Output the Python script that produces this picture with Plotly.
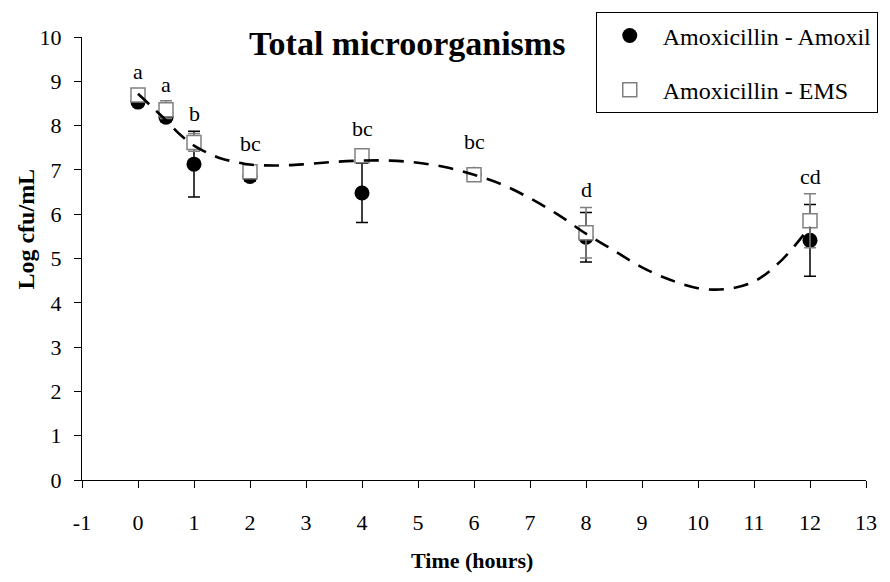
import plotly.graph_objects as go

# ---- data ----
time_h = [0, 0.5, 1, 2, 4, 6, 8, 12]
amoxil = [8.53, 8.19, 7.13, 6.85, 6.48, 6.90, 5.48, 5.41]
amoxil_err = [0.07, 0.10, 0.74, 0.10, 0.67, 0.10, 0.56, 0.81]
ems = [8.69, 8.36, 7.62, 6.96, 7.32, 6.89, 5.58, 5.85]
ems_err = [0.07, 0.20, 0.20, 0.06, 0.10, 0.13, 0.57, 0.61]

trend_t = [0, 0.25, 0.5, 0.75, 1, 1.25, 1.5, 1.75, 2, 2.5, 3, 3.5, 4, 4.5, 5, 5.5,
           6, 6.5, 7, 7.5, 8, 8.5, 9, 9.5, 10, 10.5, 11, 11.5, 12]
trend_v = [8.72, 8.42, 8.12, 7.80, 7.55, 7.38, 7.25, 7.18, 7.12, 7.10, 7.13, 7.18,
           7.21, 7.21, 7.16, 7.06, 6.89, 6.67, 6.36, 5.99, 5.56, 5.18, 4.80, 4.52,
           4.33, 4.31, 4.48, 4.97, 5.72]

sig_labels = ["a", "a", "b", "bc", "bc", "bc", "d", "cd"]
sig_y = [9.22, 8.93, 8.27, 7.60, 7.93, 7.63, 6.56, 6.84]

x_ticks = list(range(-1, 14))
y_ticks = list(range(0, 11))

FONT = "Liberation Serif, Times New Roman, serif"

# plot area in pixels (for paper-coordinate placement of texts)
L, R, T, B = 82, 874, 30, 480
W, H = R - L, B - T


def px(xp):
    return (xp - L) / W


def py(yp):
    return (B - yp) / H


fig = go.Figure()

fig.add_trace(go.Scatter(
    x=time_h, y=amoxil, mode="markers", name="Amoxicillin - Amoxil",
    marker=dict(symbol="circle", size=15, color="black"),
    error_y=dict(type="data", array=amoxil_err, visible=True,
                 color="black", thickness=1.5, width=6),
    legendgroup="g1",
))
fig.add_trace(go.Scatter(
    x=time_h, y=ems, mode="markers", name="Amoxicillin - EMS",
    marker=dict(symbol="square", size=14, color="white",
                line=dict(color="#808080", width=1.5)),
    error_y=dict(type="data", array=ems_err, visible=True,
                 color="#808080", thickness=1.5, width=6),
    legendgroup="g2",
))
fig.add_trace(go.Scatter(
    x=trend_t, y=trend_v, mode="lines", showlegend=False,
    line=dict(color="black", width=2.6, dash="15px,10px", shape="spline"),
))

for t, lab, ly in zip(time_h, sig_labels, sig_y):
    fig.add_annotation(x=t, y=ly, text=lab, showarrow=False,
                       xanchor="center", yanchor="middle",
                       font=dict(family=FONT, size=22, color="black"))

fig.add_annotation(
    xref="paper", yref="paper", x=px(410), y=py(37),
    xanchor="center", yanchor="middle",
    text="<b>Total microorganisms</b>", showarrow=False,
    font=dict(family=FONT, size=34, color="black"),
)
fig.add_annotation(
    xref="paper", yref="paper", x=px(476), y=py(562),
    xanchor="center", yanchor="middle",
    text="<b>Time (hours)</b>", showarrow=False,
    font=dict(family=FONT, size=22, color="black"),
)
fig.add_annotation(
    xref="paper", yref="paper", x=px(25), y=py(225), textangle=-90,
    xanchor="center", yanchor="middle",
    text="<b>Log cfu/mL</b>", showarrow=False,
    font=dict(family=FONT, size=24, color="black"),
)

fig.update_layout(
    width=890, height=582,
    margin=dict(l=L, r=890 - R, t=T, b=582 - B),
    paper_bgcolor="white", plot_bgcolor="white",
    font=dict(family=FONT, size=22, color="black"),
    legend=dict(
        x=px(601), y=py(5), xanchor="left", yanchor="top",
        bordercolor="black", borderwidth=1, bgcolor="white",
        font=dict(family=FONT, size=24, color="black"),
        tracegroupgap=20, itemwidth=56,
    ),
    xaxis=dict(
        range=[-1, 13], tickvals=x_ticks, ticktext=[str(v) for v in x_ticks],
        showline=True, linecolor="black", linewidth=1,
        ticks="outside", ticklen=7, tickcolor="black",
        showgrid=False, zeroline=False, ticklabelstandoff=16,
        tickfont=dict(family=FONT, size=22),
    ),
    yaxis=dict(
        range=[0, 10], tickvals=y_ticks, ticktext=[str(v) for v in y_ticks],
        showline=True, linecolor="black", linewidth=1,
        ticks="outside", ticklen=7, tickcolor="black",
        showgrid=False, zeroline=False, ticklabelstandoff=8,
        tickfont=dict(family=FONT, size=22),
    ),
)

fig.write_html("out.html")
